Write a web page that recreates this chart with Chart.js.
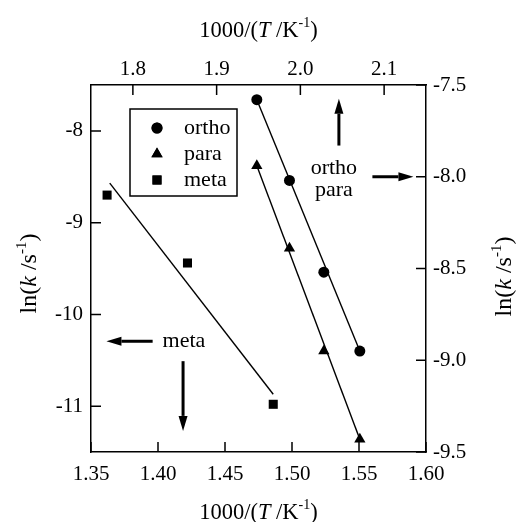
<!DOCTYPE html>
<html>
<head>
<meta charset="utf-8">
<script src="https://cdn.jsdelivr.net/npm/chart.js@4.4.1/dist/chart.umd.min.js"></script>
<style>
  html, body { margin: 0; padding: 0; background: #fff; }
</style>
</head>
<body>
<canvas id="chart" width="520" height="522"></canvas>
<script>
// ortho and para use the top (1000/T) and right (ln k) axes
const orthoX = [1.948, 1.987, 2.028, 2.071];
const orthoY = [-7.58, -8.02, -8.52, -8.95];
const paraX = [1.948, 1.987, 2.028, 2.071];
const paraY = [-7.94, -8.39, -8.95, -9.43];
// meta uses the bottom and left axes
const metaX = [1.362, 1.422, 1.486];
const metaY = [-8.70, -9.44, -10.98];

// fitted straight lines (end points)
const orthoFitX = [1.948, 2.071];
const orthoFitY = [-7.58, -8.95];
const paraFitX = [1.948, 2.071];
const paraFitY = [-7.94, -9.43];
const metaFitX = [1.364, 1.486];
const metaFitY = [-8.57, -10.87];

const bottomTicks = [1.35, 1.40, 1.45, 1.50, 1.55, 1.60];
const topTicks = [1.8, 1.9, 2.0, 2.1];
const leftTicks = [-8, -9, -10, -11];
const rightTicks = [-7.5, -8.0, -8.5, -9.0, -9.5];

const FONT = '"Liberation Serif", "Times New Roman", serif';

function pts(xs, ys) {
    return xs.map((x, i) => ({ x: x, y: ys[i] }));
}

function fitLine(xs, ys, xAxis, yAxis) {
    return {
        type: 'line', data: pts(xs, ys), xAxisID: xAxis, yAxisID: yAxis,
        borderColor: '#000', borderWidth: 1.4, pointRadius: 0, fill: false
    };
}

function markers(label, xs, ys, style, r, xAxis, yAxis) {
    return {
        type: 'scatter', label: label, data: pts(xs, ys), xAxisID: xAxis, yAxisID: yAxis,
        pointStyle: style, pointRadius: r, pointHoverRadius: r,
        backgroundColor: '#000', borderColor: '#000', borderWidth: 0, showLine: false
    };
}

// draws text made of runs: [text, ''|'i'|'sup']
function richText(ctx, runs, x, y, size, rotate) {
    const fontFor = st => (st === 'i' ? 'italic ' : '') + (st === 'sup' ? Math.round(size * 0.62) : size) + 'px ' + FONT;
    ctx.save();
    ctx.translate(x, y);
    if (rotate) ctx.rotate(-Math.PI / 2);
    let total = 0;
    runs.forEach(r => { ctx.font = fontFor(r[1]); total += ctx.measureText(r[0]).width; });
    let cx = -total / 2;
    ctx.fillStyle = '#000';
    ctx.textBaseline = 'alphabetic';
    ctx.textAlign = 'left';
    runs.forEach(r => {
        ctx.font = fontFor(r[1]);
        const dy = r[1] === 'sup' ? size * 0.35 - size * 0.42 : size * 0.35;
        ctx.fillText(r[0], cx, dy);
        cx += ctx.measureText(r[0]).width;
    });
    ctx.restore();
}

function arrow(ctx, x1, y1, x2, y2) {
    const ang = Math.atan2(y2 - y1, x2 - x1);
    const hl = 15, hw = 4.5;
    const bx = x2 - Math.cos(ang) * hl, by = y2 - Math.sin(ang) * hl;
    ctx.save();
    ctx.strokeStyle = '#000';
    ctx.fillStyle = '#000';
    ctx.lineWidth = 3;
    ctx.beginPath();
    ctx.moveTo(x1, y1);
    ctx.lineTo(bx, by);
    ctx.stroke();
    ctx.beginPath();
    ctx.moveTo(x2, y2);
    ctx.lineTo(bx - Math.sin(ang) * hw, by + Math.cos(ang) * hw);
    ctx.lineTo(bx + Math.sin(ang) * hw, by - Math.cos(ang) * hw);
    ctx.closePath();
    ctx.fill();
    ctx.restore();
}

const extras = {
    id: 'extras',
    afterDraw(chart) {
        const ctx = chart.ctx;
        const a = chart.chartArea;
        const s = chart.scales;
        const tl = 10;

        // inward tick marks
        ctx.save();
        ctx.strokeStyle = '#000';
        ctx.lineWidth = 1.5;
        ctx.beginPath();
        s.x.ticks.forEach(t => { const p = s.x.getPixelForValue(t.value); ctx.moveTo(p, a.bottom); ctx.lineTo(p, a.bottom - tl); });
        s.x2.ticks.forEach(t => { const p = s.x2.getPixelForValue(t.value); ctx.moveTo(p, a.top); ctx.lineTo(p, a.top + tl); });
        s.y.ticks.forEach(t => { const p = s.y.getPixelForValue(t.value); ctx.moveTo(a.left, p); ctx.lineTo(a.left + tl, p); });
        s.y2.ticks.forEach(t => { const p = s.y2.getPixelForValue(t.value); ctx.moveTo(a.right, p); ctx.lineTo(a.right - tl, p); });
        ctx.stroke();
        ctx.restore();

        // axis titles
        const cx = (a.left + a.right) / 2, cy = (a.top + a.bottom) / 2;
        const xTitle = [['1000/(', ''], ['T', 'i'], [' /K', ''], ['-1', 'sup'], [')', '']];
        const yTitle = [['ln(', ''], ['k', 'i'], [' /s', ''], ['-1', 'sup'], [')', '']];
        richText(ctx, xTitle, cx, 29, 22.5, false);
        richText(ctx, xTitle, cx, 511, 22.5, false);
        richText(ctx, yTitle, 28, cy + 5, 24, true);
        richText(ctx, yTitle, 503, cy + 8, 24, true);

        // legend box
        const lx = a.left + 39, ly = a.top + 24, lw = 107, lh = 87;
        ctx.save();
        ctx.strokeStyle = '#000';
        ctx.lineWidth = 1.5;
        ctx.strokeRect(lx, ly, lw, lh);
        ctx.fillStyle = '#000';
        ctx.font = '22px ' + FONT;
        ctx.textBaseline = 'middle';
        chart.data.datasets.filter(d => d.label).forEach((d, i) => {
            const yy = ly + 19 + i * 26;
            Chart.helpers.drawPoint(ctx, { pointStyle: d.pointStyle, radius: d.pointRadius, borderWidth: 0 }, lx + 27, yy);
            ctx.fill();
            ctx.fillText(d.label, lx + 54, yy);
        });
        ctx.restore();

        // annotations
        const X2 = v => s.x2.getPixelForValue(v), Y2 = v => s.y2.getPixelForValue(v);
        const X = v => s.x.getPixelForValue(v), Y = v => s.y.getPixelForValue(v);
        arrow(ctx, X2(2.046), Y2(-7.83), X2(2.046), Y2(-7.575));
        arrow(ctx, X2(2.086), Y2(-8.0), X2(2.135), Y2(-8.0));
        arrow(ctx, X(1.396), Y(-10.293), X(1.3615), Y(-10.293));
        arrow(ctx, X(1.4187), Y(-10.51), X(1.4187), Y(-11.27));
        ctx.save();
        ctx.fillStyle = '#000';
        ctx.font = '22px ' + FONT;
        ctx.textAlign = 'center';
        ctx.textBaseline = 'middle';
        ctx.fillText('ortho', X2(2.04), Y2(-7.951));
        ctx.fillText('para', X2(2.04), Y2(-8.076));
        ctx.fillText('meta', X(1.4194), Y(-10.293));
        ctx.restore();
    }
};

function axis(pos, min, max, list, fmt, size, pad) {
    const horiz = pos === 'top' || pos === 'bottom';
    return {
        type: 'linear', position: pos, min: min, max: max,
        afterBuildTicks: sc => { sc.ticks = list.map(v => ({ value: v })); },
        afterFit: sc => { if (horiz) sc.height = size; else sc.width = size; },
        grid: { display: false, drawTicks: false },
        border: { display: true, color: '#000', width: 1.5 },
        ticks: {
            color: '#000', font: { family: FONT, size: 21 }, padding: pad,
            autoSkip: false, maxRotation: 0, callback: fmt
        }
    };
}

new Chart(document.getElementById('chart'), {
    data: {
        datasets: [
            markers('ortho', orthoX, orthoY, 'circle', 5.5, 'x2', 'y2'),
            markers('para', paraX, paraY, 'triangle', 6.5, 'x2', 'y2'),
            markers('meta', metaX, metaY, 'rect', 6.4, 'x', 'y'),
            fitLine(orthoFitX, orthoFitY, 'x2', 'y2'),
            fitLine(paraFitX, paraFitY, 'x2', 'y2'),
            fitLine(metaFitX, metaFitY, 'x', 'y')
        ]
    },
    options: {
        responsive: false,
        animation: false,
        layout: { padding: 0 },
        plugins: { legend: { display: false }, tooltip: { enabled: false } },
        scales: {
            x: axis('bottom', 1.35, 1.60, bottomTicks, v => v.toFixed(2), 70, 10),
            x2: axis('top', 1.75, 2.15, topTicks, v => v.toFixed(1), 85, 3),
            y: axis('left', -11.5, -7.5, leftTicks, v => String(v), 91, 8),
            y2: axis('right', -9.5, -7.5, rightTicks, v => v.toFixed(1), 94, 7)
        }
    },
    plugins: [extras]
});
</script>
</body>
</html>
